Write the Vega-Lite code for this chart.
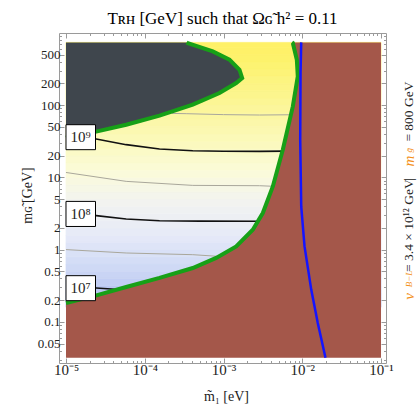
{
 "$schema": "https://vega.github.io/schema/vega-lite/v6.json",
 "width": 327, "height": 330,
 "autosize": {"type": "none"},
 "padding": {"left": 59, "top": 33, "right": 31, "bottom": 48},
 "background": "white",
 "title": {"text": "Tʀʜ [GeV] such that Ωɢ̃ h² = 0.11", "font": "Liberation Serif", "fontSize": 17, "fontWeight": "normal", "color": "#000", "anchor": "middle", "offset": -8, "baseline": "alphabetic"},
 "config": {"view": {"stroke": "#9a9a9a", "strokeWidth": 1}, "font": "Liberation Serif"},
 "datasets": {
  "bands": [
   {"m1":1e-5,"m2":0.1,"lo":0.1585,"hi":0.1995,"logT":6.80},{"m1":1e-5,"m2":0.1,"lo":0.1995,"hi":0.2512,"logT":6.90},{"m1":1e-5,"m2":0.1,"lo":0.2512,"hi":0.3162,"logT":7.01},{"m1":1e-5,"m2":0.1,"lo":0.3162,"hi":0.3981,"logT":7.11},{"m1":1e-5,"m2":0.1,"lo":0.3981,"hi":0.5012,"logT":7.22},{"m1":1e-5,"m2":0.1,"lo":0.5012,"hi":0.631,"logT":7.32},{"m1":1e-5,"m2":0.1,"lo":0.631,"hi":0.7943,"logT":7.42},{"m1":1e-5,"m2":0.1,"lo":0.7943,"hi":1,"logT":7.53},{"m1":1e-5,"m2":0.1,"lo":1,"hi":1.259,"logT":7.63},{"m1":1e-5,"m2":0.1,"lo":1.259,"hi":1.585,"logT":7.74},{"m1":1e-5,"m2":0.1,"lo":1.585,"hi":1.995,"logT":7.84},{"m1":1e-5,"m2":0.1,"lo":1.995,"hi":2.512,"logT":7.94},{"m1":1e-5,"m2":0.1,"lo":2.512,"hi":3.162,"logT":8.05},{"m1":1e-5,"m2":0.1,"lo":3.162,"hi":3.981,"logT":8.15},{"m1":1e-5,"m2":0.1,"lo":3.981,"hi":5.012,"logT":8.26},{"m1":1e-5,"m2":0.1,"lo":5.012,"hi":6.31,"logT":8.36},{"m1":1e-5,"m2":0.1,"lo":6.31,"hi":7.943,"logT":8.46},{"m1":1e-5,"m2":0.1,"lo":7.943,"hi":10,"logT":8.57},{"m1":1e-5,"m2":0.1,"lo":10,"hi":12.59,"logT":8.67},{"m1":1e-5,"m2":0.1,"lo":12.59,"hi":15.85,"logT":8.78},{"m1":1e-5,"m2":0.1,"lo":15.85,"hi":19.95,"logT":8.88},{"m1":1e-5,"m2":0.1,"lo":19.95,"hi":25.12,"logT":8.98},{"m1":1e-5,"m2":0.1,"lo":25.12,"hi":31.62,"logT":9.09},{"m1":1e-5,"m2":0.1,"lo":31.62,"hi":39.81,"logT":9.19},{"m1":1e-5,"m2":0.1,"lo":39.81,"hi":50.12,"logT":9.30},{"m1":1e-5,"m2":0.1,"lo":50.12,"hi":63.1,"logT":9.40},{"m1":1e-5,"m2":0.1,"lo":63.1,"hi":79.43,"logT":9.50},{"m1":1e-5,"m2":0.1,"lo":79.43,"hi":100,"logT":9.61},{"m1":1e-5,"m2":0.1,"lo":100,"hi":125.9,"logT":9.71},{"m1":1e-5,"m2":0.1,"lo":125.9,"hi":158.5,"logT":9.82},{"m1":1e-5,"m2":0.1,"lo":158.5,"hi":199.5,"logT":9.92},{"m1":1e-5,"m2":0.1,"lo":199.5,"hi":251.2,"logT":10.02},{"m1":1e-5,"m2":0.1,"lo":251.2,"hi":316.2,"logT":10.13},{"m1":1e-5,"m2":0.1,"lo":316.2,"hi":398.1,"logT":10.23},{"m1":1e-5,"m2":0.1,"lo":398.1,"hi":501.2,"logT":10.34},{"m1":1e-5,"m2":0.1,"lo":501.2,"hi":631,"logT":10.44},{"m1":1e-5,"m2":0.1,"lo":631,"hi":741,"logT":10.53}
  ],
  "contours": [
   {"kind":"major","c":"9","x":1.5e-5,"y":36.0},{"kind":"major","c":"9","x":2.42e-5,"y":34.0},{"kind":"major","c":"9","x":5.81e-5,"y":28.4},{"kind":"major","c":"9","x":1.54e-4,"y":24.7},{"kind":"major","c":"9","x":4.07e-4,"y":23.4},{"kind":"major","c":"9","x":1.0e-3,"y":23.0},{"kind":"major","c":"9","x":2.86e-3,"y":22.9},{"kind":"major","c":"9","x":6.0e-3,"y":23.1},
   {"kind":"major","c":"8","x":1.5e-5,"y":3.05},{"kind":"major","c":"8","x":2.42e-5,"y":2.95},{"kind":"major","c":"8","x":5.81e-5,"y":2.65},{"kind":"major","c":"8","x":1.54e-4,"y":2.51},{"kind":"major","c":"8","x":5e-4,"y":2.48},{"kind":"major","c":"8","x":2.8e-3,"y":2.47},
   {"kind":"major","c":"7","x":1.5e-5,"y":0.30},{"kind":"major","c":"7","x":2.42e-5,"y":0.294},{"kind":"major","c":"7","x":3.75e-5,"y":0.284},{"kind":"major","c":"7","x":5e-5,"y":0.278},
   {"kind":"minor","c":"9.5","x":2.2e-4,"y":77},{"kind":"minor","c":"9.5","x":3.36e-4,"y":76.3},{"kind":"minor","c":"9.5","x":1e-3,"y":74},{"kind":"minor","c":"9.5","x":2.86e-3,"y":73.1},{"kind":"minor","c":"9.5","x":8.0e-3,"y":73.8},
   {"kind":"minor","c":"8.5","x":1e-5,"y":11.7},{"kind":"minor","c":"8.5","x":5.81e-5,"y":8.81},{"kind":"minor","c":"8.5","x":4.07e-4,"y":7.75},{"kind":"minor","c":"8.5","x":2.86e-3,"y":7.67},{"kind":"minor","c":"8.5","x":4.6e-3,"y":7.5},
   {"kind":"minor","c":"7.5","x":1e-5,"y":1.0},{"kind":"minor","c":"7.5","x":5.81e-5,"y":0.897},{"kind":"minor","c":"7.5","x":4.07e-4,"y":0.85},{"kind":"minor","c":"7.5","x":9.5e-4,"y":0.80}
  ],
  "dark": [
   {"i":0,"x":1e-5,"y":35.5},{"i":1,"x":2.19e-5,"y":42.0},{"i":2,"x":5.81e-5,"y":53.7},{"i":3,"x":1.539e-4,"y":71.6},{"i":4,"x":4.07e-4,"y":101.6},{"i":5,"x":8.89e-4,"y":147.6},{"i":6,"x":1.449e-3,"y":203},{"i":7,"x":1.726e-3,"y":238},{"i":8,"x":1.596e-3,"y":310},{"i":9,"x":1.191e-3,"y":427},{"i":10,"x":7.31e-4,"y":556},{"i":11,"x":3.52e-4,"y":726},{"i":12,"x":3.4e-4,"y":741}
  ],
  "brown": [
   {"i":0,"x":1e-5,"y":0.0318},{"i":1,"x":1e-5,"y":0.182},{"i":2,"x":2.19e-5,"y":0.225},{"i":3,"x":5.81e-5,"y":0.303},{"i":4,"x":1.539e-4,"y":0.405},{"i":5,"x":4.07e-4,"y":0.556},{"i":6,"x":8.07e-4,"y":0.766},{"i":7,"x":1.449e-3,"y":1.107},{"i":8,"x":2.355e-3,"y":1.887},{"i":9,"x":3.155e-3,"y":3.21},{"i":10,"x":4.23e-3,"y":7.5},{"i":11,"x":5.66e-3,"y":24.2},{"i":12,"x":7.59e-3,"y":96.2},{"i":13,"x":8.77e-3,"y":250.6},{"i":14,"x":8.53e-3,"y":427},{"i":15,"x":7.59e-3,"y":726},{"i":16,"x":7.4e-3,"y":741}
  ],
  "blue": [
   {"i":0,"x":9.70e-3,"y":741},{"i":1,"x":9.51e-3,"y":279},{"i":2,"x":9.42e-3,"y":33.3},{"i":3,"x":9.70e-3,"y":3.96},{"i":4,"x":1.069e-2,"y":1.107},{"i":5,"x":1.30e-2,"y":0.279},{"i":6,"x":1.574e-2,"y":0.0962},{"i":7,"x":1.972e-2,"y":0.0318}
  ],
  "labels": [
   {"text":"10⁹","x1":1e-5,"x2":2.37e-5,"y1":24.2,"y2":53.7,"xc":1.53e-5,"yc":36.1},
   {"text":"10⁸","x1":1e-5,"x2":2.37e-5,"y1":2.09,"y2":4.65,"xc":1.53e-5,"yc":3.14},
   {"text":"10⁷","x1":1e-5,"x2":2.37e-5,"y1":0.196,"y2":0.435,"xc":1.53e-5,"yc":0.292}
  ],
  "notes": [
   {"role":"symbol","text":"ν","x":0.23,"y":0.202},
   {"role":"sub","text":"B−L","x":0.23,"y":0.265},
   {"role":"value","text":"= 3.4 × 10¹² GeV","x":0.23,"y":0.49},
   {"role":"value","text":"|","x":0.23,"y":9.0},
   {"role":"symbol","text":"m","x":0.23,"y":14.1},
   {"role":"sub","text":"g̃","x":0.23,"y":19.4},
   {"role":"value","text":"= 800 GeV","x":0.23,"y":31.3}
  ]
 },
 "encoding": {
  "x": {"field": "x", "type": "quantitative", "scale": {"type": "log", "domain": [8.15e-6, 0.1157], "nice": false}, "axis": null},
  "y": {"field": "y", "type": "quantitative", "scale": {"type": "log", "domain": [0.02686, 1000], "nice": false}, "axis": null}
 },
 "layer": [
  {
   "data": {"name": "bands"},
   "mark": {"type": "rect", "strokeWidth": 0.7},
   "encoding": {
    "x": {"field": "m1", "type": "quantitative", "scale": {"type": "log", "domain": [8.15e-6, 0.1157], "nice": false}, "axis": null},
    "x2": {"field": "m2"},
    "y": {"field": "lo", "type": "quantitative", "scale": {"type": "log", "domain": [0.02686, 1000], "nice": false}, "axis": null},
    "y2": {"field": "hi"},
    "color": {"field": "logT", "type": "quantitative", "legend": null, "scale": {"domain": [6.8, 6.93, 7.29, 7.79, 8.3, 8.73, 9.31, 9.8, 10.32, 10.6], "range": ["#b0bff1", "#b6c4f2", "#cdd8f5", "#e6eaf8", "#f3f4ef", "#fbfbd8", "#fbf8b0", "#fcf58e", "#fdf26c", "#fff066"], "interpolate": "rgb"}},
    "stroke": {"field": "logT", "type": "quantitative", "legend": null, "scale": {"domain": [6.8, 6.93, 7.29, 7.79, 8.3, 8.73, 9.31, 9.8, 10.32, 10.6], "range": ["#b0bff1", "#b6c4f2", "#cdd8f5", "#e6eaf8", "#f3f4ef", "#fbfbd8", "#fbf8b0", "#fcf58e", "#fdf26c", "#fff066"], "interpolate": "rgb"}}
   }
  },
  {
   "data": {"name": "contours"},
   "transform": [{"filter": "datum.kind == 'minor'"}],
   "mark": {"type": "line", "color": "#a9a79b", "strokeWidth": 1},
   "encoding": {
    "detail": {"field": "c"},
    "x": {"field": "x", "type": "quantitative", "scale": {"type": "log", "domain": [8.15e-6, 0.1157], "nice": false},
      "axis": {"orient": "top", "values": [2e-5,3e-5,4e-5,5e-5,6e-5,7e-5,8e-5,9e-5,2e-4,3e-4,4e-4,5e-4,6e-4,7e-4,8e-4,9e-4,2e-3,3e-3,4e-3,5e-3,6e-3,7e-3,8e-3,9e-3,2e-2,3e-2,4e-2,5e-2,6e-2,7e-2,8e-2,9e-2], "labels": false, "tickSize": -2.5, "tickColor": "#9a9a9a", "domain": false, "grid": false, "title": null}},
    "y": {"field": "y", "type": "quantitative", "scale": {"type": "log", "domain": [0.02686, 1000], "nice": false},
      "axis": {"orient": "right", "values": [0.03,0.04,0.06,0.07,0.08,0.09,0.3,0.4,0.6,0.7,0.8,0.9,3,4,6,7,8,9,30,40,60,70,80,90,300,400,600,700,800,900], "labels": false, "tickSize": -2.5, "tickColor": "#9a9a9a", "domain": false, "grid": false, "title": null}}
   }
  },
  {
   "data": {"name": "contours"},
   "transform": [{"filter": "datum.kind == 'major'"}],
   "mark": {"type": "line", "color": "#111111", "strokeWidth": 1.6},
   "encoding": {
    "detail": {"field": "c"},
    "x": {"field": "x", "type": "quantitative", "scale": {"type": "log", "domain": [8.15e-6, 0.1157], "nice": false},
      "axis": {"orient": "bottom", "values": [2e-5,3e-5,4e-5,5e-5,6e-5,7e-5,8e-5,9e-5,2e-4,3e-4,4e-4,5e-4,6e-4,7e-4,8e-4,9e-4,2e-3,3e-3,4e-3,5e-3,6e-3,7e-3,8e-3,9e-3,2e-2,3e-2,4e-2,5e-2,6e-2,7e-2,8e-2,9e-2], "labels": false, "tickSize": -2.5, "tickColor": "#9a9a9a", "domain": false, "grid": false, "title": null}},
    "y": {"field": "y", "type": "quantitative", "scale": {"type": "log", "domain": [0.02686, 1000], "nice": false},
      "axis": {"orient": "left", "values": [0.03,0.04,0.06,0.07,0.08,0.09,0.3,0.4,0.6,0.7,0.8,0.9,3,4,6,7,8,9,30,40,60,70,80,90,300,400,600,700,800,900], "labels": false, "tickSize": -2.5, "tickColor": "#9a9a9a", "domain": false, "grid": false, "title": null}}
   }
  },
  {
   "data": {"name": "dark"},
   "mark": {"type": "area", "orient": "horizontal", "color": "#3f464d"},
   "encoding": {
    "x": {"field": "x", "type": "quantitative", "scale": {"type": "log", "domain": [8.15e-6, 0.1157], "nice": false},
      "axis": {"orient": "bottom", "values": [1e-5, 1e-4, 1e-3, 1e-2, 1e-1], "labelExpr": "datum.value < 3e-5 ? '10⁻⁵' : datum.value < 3e-4 ? '10⁻⁴' : datum.value < 3e-3 ? '10⁻³' : datum.value < 3e-2 ? '10⁻²' : '10⁻¹'", "tickSize": -5, "tickColor": "#9a9a9a", "domain": false, "grid": false, "labelFont": "Liberation Serif", "labelFontSize": 15, "labelColor": "#222222", "labelPadding": 4, "labelOverlap": false, "labelFlush": false, "title": "m̃₁ [eV]", "titleFont": "Liberation Serif", "titleFontSize": 14, "titleFontWeight": "normal", "titleColor": "#222222", "titleX": 167, "titleY": 37, "titleBaseline": "alphabetic"}},
    "x2": {"datum": 1e-5},
    "y": {"field": "y", "type": "quantitative", "scale": {"type": "log", "domain": [0.02686, 1000], "nice": false},
      "axis": {"orient": "left", "values": [0.05, 0.1, 0.2, 0.5, 1, 2, 5, 10, 20, 50, 100, 200, 500], "format": "~g", "tickSize": -5, "tickColor": "#9a9a9a", "domain": false, "grid": false, "labelFont": "Liberation Serif", "labelFontSize": 13, "labelColor": "#222222", "labelPadding": 4, "labelOverlap": false, "labelFlush": false, "title": "mɢ̃ [GeV]", "titleFont": "Liberation Serif", "titleFontSize": 14, "titleFontWeight": "normal", "titleColor": "#222222", "titleX": -31.5, "titleY": 162, "titleBaseline": "middle", "titleAlign": "center", "titleAngle": 270}}
   }
  },
  {
   "data": {"name": "brown"},
   "mark": {"type": "area", "orient": "horizontal", "color": "#a4574a"},
   "encoding": {
    "x": {"field": "x", "type": "quantitative", "scale": {"type": "log", "domain": [8.15e-6, 0.1157], "nice": false},
      "axis": {"orient": "top", "values": [1e-5, 1e-4, 1e-3, 1e-2, 1e-1], "labels": false, "tickSize": -5, "tickColor": "#9a9a9a", "domain": false, "grid": false, "title": null}},
    "x2": {"datum": 0.1},
    "y": {"field": "y", "type": "quantitative", "scale": {"type": "log", "domain": [0.02686, 1000], "nice": false},
      "axis": {"orient": "right", "values": [0.05, 0.1, 0.2, 0.5, 1, 2, 5, 10, 20, 50, 100, 200, 500], "labels": false, "tickSize": -5, "tickColor": "#9a9a9a", "domain": false, "grid": false, "title": null}}
   }
  },
  {
   "data": {"name": "dark"},
   "mark": {"type": "line", "color": "#17a017", "strokeWidth": 4},
   "encoding": {"order": {"field": "i"}}
  },
  {
   "data": {"name": "brown"},
   "transform": [{"filter": "datum.y > 0.1"}],
   "mark": {"type": "line", "color": "#17a017", "strokeWidth": 4},
   "encoding": {"order": {"field": "i"}}
  },
  {
   "data": {"name": "blue"},
   "mark": {"type": "line", "color": "#1414ff", "strokeWidth": 2.5},
   "encoding": {"order": {"field": "i"}}
  },
  {
   "data": {"name": "labels"},
   "mark": {"type": "rect", "fill": "white", "stroke": "black", "strokeWidth": 1},
   "encoding": {
    "x": {"field": "x1", "type": "quantitative", "scale": {"type": "log", "domain": [8.15e-6, 0.1157], "nice": false}, "axis": null},
    "x2": {"field": "x2"},
    "y": {"field": "y1", "type": "quantitative", "scale": {"type": "log", "domain": [0.02686, 1000], "nice": false}, "axis": null},
    "y2": {"field": "y2"}
   }
  },
  {
   "data": {"name": "labels"},
   "mark": {"type": "text", "font": "Liberation Serif", "fontSize": 15, "color": "#222222", "align": "center", "baseline": "middle"},
   "encoding": {
    "x": {"field": "xc", "type": "quantitative", "scale": {"type": "log", "domain": [8.15e-6, 0.1157], "nice": false}, "axis": null},
    "y": {"field": "yc", "type": "quantitative", "scale": {"type": "log", "domain": [0.02686, 1000], "nice": false}, "axis": null},
    "text": {"field": "text"}
   }
  },
  {
   "data": {"name": "notes"},
   "transform": [{"filter": "datum.role == 'symbol'"}],
   "mark": {"type": "text", "font": "Liberation Serif", "fontSize": 15, "fontStyle": "italic", "color": "#f39019", "angle": 270, "align": "left", "baseline": "middle"},
   "encoding": {"text": {"field": "text"}}
  },
  {
   "data": {"name": "notes"},
   "transform": [{"filter": "datum.role == 'sub'"}],
   "mark": {"type": "text", "font": "Liberation Serif", "fontSize": 9, "fontStyle": "italic", "color": "#f39019", "angle": 270, "align": "left", "baseline": "middle", "dx": 4},
   "encoding": {"text": {"field": "text"}}
  },
  {
   "data": {"name": "notes"},
   "transform": [{"filter": "datum.role == 'value'"}],
   "mark": {"type": "text", "font": "Liberation Serif", "fontSize": 13.5, "color": "#222222", "angle": 270, "align": "left", "baseline": "middle"},
   "encoding": {"text": {"field": "text"}}
  }
 ],
 "resolve": {"axis": {"x": "independent", "y": "independent"}}
}
